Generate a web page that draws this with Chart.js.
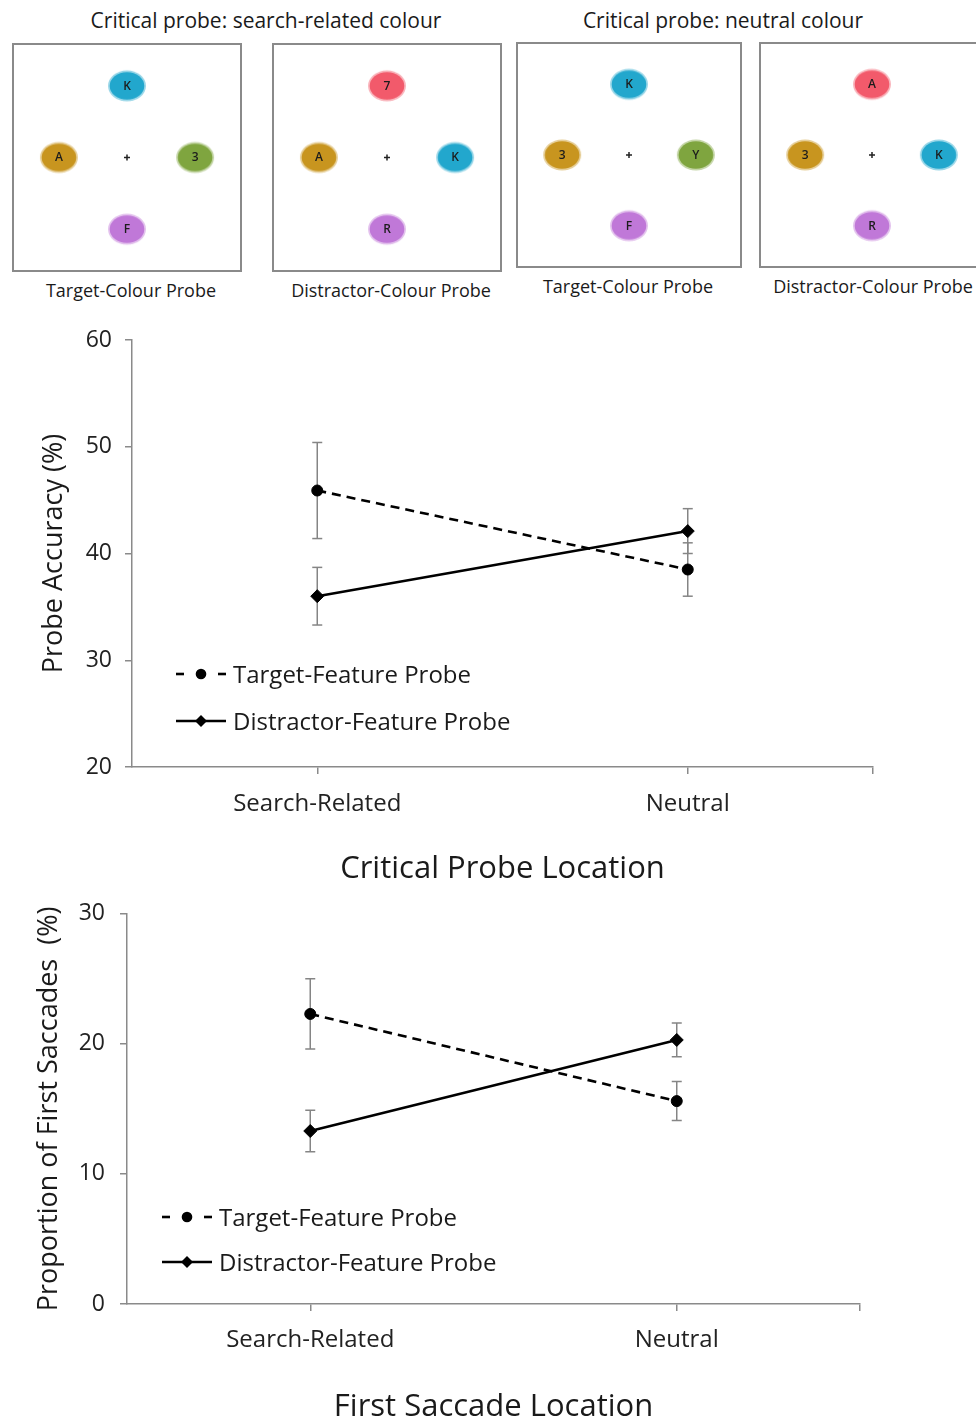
<!DOCTYPE html>
<html><head><meta charset="utf-8">
<script src="https://cdn.jsdelivr.net/npm/chart.js@4.4.0/dist/chart.umd.min.js"></script>
<style>
html,body{margin:0;padding:0;background:#fff;}
body{width:976px;height:1422px;position:relative;overflow:hidden;font-family:'Open Sans',sans-serif;color:#1a1a1a;}
.grp{position:absolute;font-size:21px;line-height:26px;text-align:center;white-space:nowrap;width:500px;}
.cap{position:absolute;font-size:18px;line-height:22px;text-align:center;white-space:nowrap;width:300px;}
.panel{position:absolute;border:2px solid #8a8a8a;box-sizing:border-box;}
.panel canvas{display:block;}
.leg{position:absolute;display:flex;align-items:center;font-size:24px;line-height:28px;white-space:nowrap;color:#1a1a1a;}
.leg svg{margin-right:6px;flex:none;}
canvas.main{position:absolute;left:0;}
</style></head><body>

<div class="grp" id="g1" style="left:16px;top:7px;"></div>
<div class="grp" id="g2" style="left:473px;top:7px;"></div>

<div class="panel" style="left:12px;top:43px;width:230px;height:229px;"><canvas id="p1" width="226" height="225"></canvas></div>
<div class="panel" style="left:272px;top:43px;width:230px;height:229px;"><canvas id="p2" width="226" height="225"></canvas></div>
<div class="panel" style="left:516px;top:42px;width:226px;height:226px;"><canvas id="p3" width="222" height="222"></canvas></div>
<div class="panel" style="left:759px;top:42px;width:226px;height:226px;"><canvas id="p4" width="222" height="222"></canvas></div>

<div class="cap" id="c1" style="left:-19px;top:279px;"></div>
<div class="cap" id="c2" style="left:241px;top:279px;"></div>
<div class="cap" id="c3" style="left:478px;top:275px;"></div>
<div class="cap" id="c4" style="left:723px;top:275px;"></div>

<canvas class="main" id="chartA" width="976" height="575" style="top:310px;"></canvas>
<canvas class="main" id="chartB" width="976" height="537" style="top:885px;"></canvas>

<div class="leg" id="legA1" style="left:176px;top:660px;"></div>
<div class="leg" id="legA2" style="left:176px;top:707px;"></div>
<div class="leg" id="legB1" style="left:162px;top:1203px;"></div>
<div class="leg" id="legB2" style="left:162px;top:1248px;"></div>

<script>
// ---------- data ----------
const groupTitles = ['Critical probe: search-related colour', 'Critical probe: neutral colour'];
const panelCaptions = ['Target-Colour Probe', 'Distractor-Colour Probe', 'Target-Colour Probe', 'Distractor-Colour Probe'];

// stimulus layout: top, left, right, bottom (display units)
const stimX = [0, -1, 1, 0];
const stimY = [1, 0, 0, -1];
const panel1Letters = ['K', 'A', '3', 'F'];
const panel1Colours = ['#22a7cd', '#c8951f', '#7fa53f', '#c078d8'];
const panel2Letters = ['7', 'A', 'K', 'R'];
const panel2Colours = ['#f25a6b', '#c8951f', '#22a7cd', '#c078d8'];
const panel3Letters = ['K', '3', 'Y', 'F'];
const panel3Colours = ['#22a7cd', '#c8951f', '#7fa53f', '#c078d8'];
const panel4Letters = ['A', '3', 'K', 'R'];
const panel4Colours = ['#f25a6b', '#c8951f', '#22a7cd', '#c078d8'];

const categories = ['Search-Related', 'Neutral'];
const seriesNames = ['Target-Feature Probe', 'Distractor-Feature Probe'];

const accTarget = [45.9, 38.5];
const accTargetErr = [4.5, 2.5];
const accDistractor = [36.0, 42.1];
const accDistractorErr = [2.7, 2.1];
const accTicks = [20, 30, 40, 50, 60];

const sacTarget = [22.3, 15.6];
const sacTargetErr = [2.7, 1.5];
const sacDistractor = [13.3, 20.3];
const sacDistractorErr = [1.6, 1.3];
const sacTicks = [0, 10, 20, 30];

const FAMILY = "'Open Sans', sans-serif";

// ---------- text ----------
document.getElementById('g1').textContent = groupTitles[0];
document.getElementById('g2').textContent = groupTitles[1];
panelCaptions.forEach((t, i) => document.getElementById('c' + (i + 1)).textContent = t);

// ---------- stimulus panels ----------
function ellipseImg(color) {
  const c = document.createElement('canvas');
  c.width = 40; c.height = 34;
  const g = c.getContext('2d');
  g.globalAlpha = 0.45;
  g.beginPath(); g.ellipse(20, 17, 19, 15.5, 0, 0, Math.PI * 2);
  g.fillStyle = color; g.fill();
  g.globalAlpha = 1;
  g.beginPath(); g.ellipse(20, 17, 17.3, 13.8, 0, 0, Math.PI * 2);
  g.fillStyle = color; g.fill();
  return c;
}
const letterPlugin = {
  id: 'letters',
  afterDatasetsDraw(chart) {
    const ds = chart.data.datasets[0];
    const meta = chart.getDatasetMeta(0);
    const ctx = chart.ctx;
    ctx.save();
    ctx.font = "600 12px 'Open Sans', sans-serif";
    ctx.fillStyle = '#1c1c1c';
    ctx.textAlign = 'center';
    ctx.textBaseline = 'middle';
    meta.data.forEach((p, i) => ctx.fillText(ds.letters[i], p.x, p.y + 0.5));
    ctx.restore();
  }
};
function stimChart(id, letters, colours) {
  new Chart(document.getElementById(id), {
    type: 'scatter',
    data: {
      datasets: [
        {
          data: stimX.map((x, i) => ({x, y: stimY[i]})),
          letters: letters,
          pointStyle: colours.map(ellipseImg),
          pointRadius: 15,
          pointHoverRadius: 15
        },
        {
          data: [{x: 0, y: 0}],
          pointStyle: 'cross',
          pointRadius: 3,
          pointBorderColor: '#222',
          pointBorderWidth: 1.5
        }
      ]
    },
    options: {
      responsive: false, animation: false, devicePixelRatio: 1,
      layout: {padding: 0, autoPadding: false},
      events: [],
      plugins: {legend: {display: false}, tooltip: {enabled: false}},
      scales: {
        x: {type: 'linear', min: -1.66, max: 1.66, display: false},
        y: {type: 'linear', min: -1.57, max: 1.57, display: false}
      }
    },
    plugins: [letterPlugin]
  });
}
stimChart('p1', panel1Letters, panel1Colours);
stimChart('p2', panel2Letters, panel2Colours);
stimChart('p3', panel3Letters, panel3Colours);
stimChart('p4', panel4Letters, panel4Colours);

// ---------- line charts ----------
function lineChart(id, cfg) {
  const pts = arr => arr.map((v, i) => ({x: i, y: v}));
  const errSets = [];
  [[cfg.target, cfg.targetErr], [cfg.distractor, cfg.distractorErr]].forEach(([vals, errs]) => {
    vals.forEach((v, i) => {
      errSets.push({
        label: 'err',
        data: [{x: i, y: v - errs[i]}, {x: i, y: v + errs[i]}],
        borderColor: '#858585', borderWidth: 1.5,
        pointStyle: 'line', pointRadius: 5, pointHoverRadius: 5,
        pointBorderColor: '#858585', pointBorderWidth: 1.5, pointBackgroundColor: '#858585',
        showLine: true, fill: false
      });
    });
  });
  new Chart(document.getElementById(id), {
    type: 'line',
    data: {
      datasets: [
        {label: seriesNames[0], data: pts(cfg.target), borderColor: '#000', borderWidth: 2.6, borderDash: [9, 6],
         pointStyle: 'circle', pointRadius: 5.5, pointBackgroundColor: '#000', pointBorderColor: '#000', pointBorderWidth: 1, tension: 0},
        {label: seriesNames[1], data: pts(cfg.distractor), borderColor: '#000', borderWidth: 2.6,
         pointStyle: 'rectRot', pointRadius: 6.5, pointBackgroundColor: '#000', pointBorderColor: '#000', pointBorderWidth: 1, tension: 0},
        ...errSets
      ]
    },
    options: {
      responsive: false, animation: false, devicePixelRatio: 1,
      events: [],
      layout: {padding: {top: cfg.padTop, right: cfg.padRight, left: 0, bottom: 0}, autoPadding: false},
      plugins: {legend: {display: false}, tooltip: {enabled: false}},
      scales: {
        x: {
          type: 'linear', min: -0.5, max: categories.length - 0.5,
          afterBuildTicks: s => { s.ticks = categories.map((c, i) => ({value: i})).concat([{value: categories.length - 0.5}]); },
          ticks: {callback: v => (categories[v] !== undefined ? categories[v] : ''), font: {family: FAMILY, size: 24}, color: '#222',
                  padding: cfg.xTickPad, maxRotation: 0, autoSkip: false},
          grid: {drawOnChartArea: false, drawTicks: true, tickLength: 7, color: '#8a8a8a', lineWidth: 1.5},
          border: {color: '#8a8a8a', width: 1.5},
          title: {display: true, text: cfg.xTitle, font: {family: FAMILY, size: 31, lineHeight: 1.2}, color: '#1a1a1a', padding: {top: 0, bottom: cfg.xTitlePadBottom}},
          afterFit: s => { s.height = cfg.xAxisH; }
        },
        y: {
          type: 'linear', min: cfg.ticks[0], max: cfg.ticks[cfg.ticks.length - 1],
          afterBuildTicks: s => { s.ticks = cfg.ticks.map(v => ({value: v})); },
          ticks: {font: {family: FAMILY, size: 23}, color: '#222', padding: cfg.yTickPad},
          grid: {drawOnChartArea: false, drawTicks: true, tickLength: 7, color: '#8a8a8a', lineWidth: 1.5},
          border: {color: '#8a8a8a', width: 1.5},
          title: {display: true, text: cfg.yTitle, font: {family: FAMILY, size: 27, lineHeight: 1.2}, color: '#1a1a1a', padding: {top: cfg.yTitlePad, bottom: 0}},
          afterFit: s => { s.width = cfg.yAxisW; }
        }
      }
    }
  });
}

lineChart('chartA', {
  target: accTarget, targetErr: accTargetErr, distractor: accDistractor, distractorErr: accDistractorErr,
  ticks: accTicks, xTitle: 'Critical Probe Location', yTitle: 'Probe Accuracy (%)',
  padTop: 30, padRight: 103, yAxisW: 132, xAxisH: 118, yTitlePad: 38, xTickPad: 16, yTickPad: 13, xTitlePadBottom: -3
});
lineChart('chartB', {
  target: sacTarget, targetErr: sacTargetErr, distractor: sacDistractor, distractorErr: sacDistractorErr,
  ticks: sacTicks, xTitle: 'First Saccade Location', yTitle: 'Proportion of First Saccades  (%)',
  padTop: 22, padRight: 116, yAxisW: 127, xAxisH: 118, yTitlePad: 33, xTickPad: 15, yTickPad: 15, xTitlePadBottom: -4
});

// ---------- legends (HTML) ----------
function legendItem(id, name, dashed) {
  const el = document.getElementById(id);
  const ns = 'http://www.w3.org/2000/svg';
  const svg = document.createElementNS(ns, 'svg');
  svg.setAttribute('width', '51'); svg.setAttribute('height', '16');
  const mk = (tag, attrs) => { const e = document.createElementNS(ns, tag); for (const k in attrs) e.setAttribute(k, attrs[k]); svg.appendChild(e); };
  if (dashed) {
    mk('line', {x1: 0, y1: 8, x2: 8, y2: 8, stroke: '#000', 'stroke-width': 2.6});
    mk('line', {x1: 42, y1: 8, x2: 50, y2: 8, stroke: '#000', 'stroke-width': 2.6});
    mk('circle', {cx: 25, cy: 8, r: 5.3, fill: '#000'});
  } else {
    mk('line', {x1: 0, y1: 8, x2: 50, y2: 8, stroke: '#000', 'stroke-width': 2.6});
    mk('polygon', {points: '25,2 31,8 25,14 19,8', fill: '#000'});
  }
  el.appendChild(svg);
  const span = document.createElement('span');
  span.textContent = name;
  el.appendChild(span);
}
legendItem('legA1', seriesNames[0], true);
legendItem('legA2', seriesNames[1], false);
legendItem('legB1', seriesNames[0], true);
legendItem('legB2', seriesNames[1], false);
</script>
</body></html>
